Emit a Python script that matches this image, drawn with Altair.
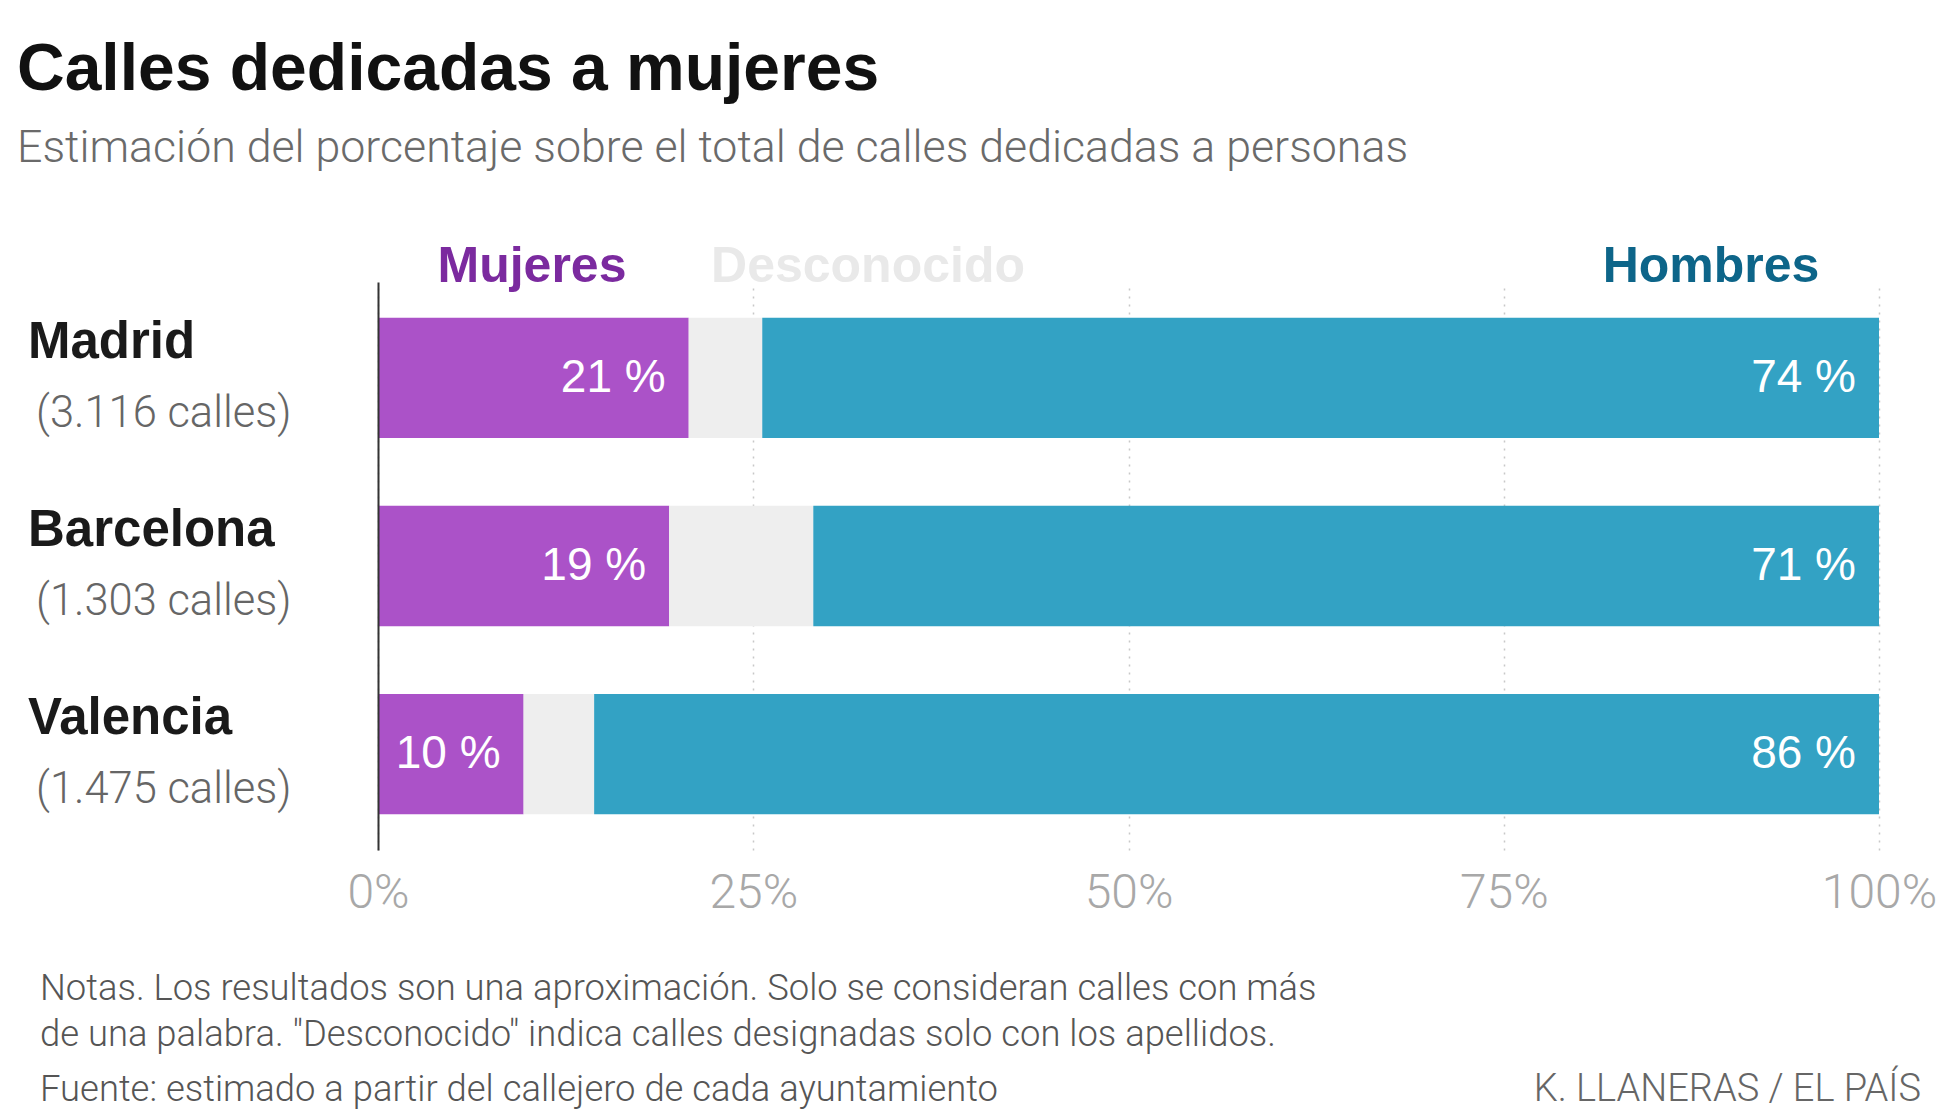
import altair as alt
import pandas as pd

# ---------------- data ----------------
CITIES = ["Madrid", "Barcelona", "Valencia"]
STREETS = ["3.116", "1.303", "1.475"]
MUJERES = [20.7, 19.4, 9.7]
DESCONOCIDO = [4.9, 9.6, 4.7]
HOMBRES = [74.4, 71.0, 85.6]
SEGMENTS = ["Mujeres", "Desconocido", "Hombres"]
TICKS = [0, 25, 50, 75, 100]

TITLE = "Calles dedicadas a mujeres"
SUBTITLE = "Estimación del porcentaje sobre el total de calles dedicadas a personas"
NOTES = [
    "Notas. Los resultados son una aproximación. Solo se consideran calles con más",
    "de una palabra. \"Desconocido\" indica calles designadas solo con los apellidos.",
    "Fuente: estimado a partir del callejero de cada ayuntamiento",
]
CREDIT = "K. LLANERAS  /  EL PAÍS"

# ---------------- styles ----------------
BAR_COLORS = ["#ab52c8", "#eeeeee", "#33a2c4"]
HEAD_COLORS = {"Mujeres": "#7b2a9f", "Desconocido": "#e9e9e9", "Hombres": "#0d6589"}
HEAD_X = {"Mujeres": 154, "Desconocido": 490, "Hombres": 1333}  # pixel centres
BOLD = "Liberation Sans"
LIGHT = "Roboto"

W, H = 1501, 568

# ---------------- tables ----------------
rows = []
for c, m, d, h in zip(CITIES, MUJERES, DESCONOCIDO, HOMBRES):
    for i, (s, v) in enumerate(zip(SEGMENTS, [m, d, h])):
        rows.append({"city": c, "segment": s, "value": v, "ord": i})
bars_df = pd.DataFrame(rows)

lab_rows = []
for c, m, d, h in zip(CITIES, MUJERES, DESCONOCIDO, HOMBRES):
    lab_rows.append({"city": c, "pos": m, "text": f"{round(m)} %"})
    lab_rows.append({"city": c, "pos": m + d + h, "text": f"{round(h)} %"})
lab_df = pd.DataFrame(lab_rows)

city_df = pd.DataFrame({
    "city": CITIES,
    "streets": [f"({s} calles)" for s in STREETS],
})

y_enc = alt.Y(
    "city:N", sort=CITIES,
    scale=alt.Scale(paddingInner=0.36, paddingOuter=0.19),
    axis=alt.Axis(labels=False, ticks=False, title=None, domain=True,
                  domainColor="#333333", domainWidth=2, grid=False, zindex=1),
)

bars = alt.Chart(bars_df).mark_bar().encode(
    x=alt.X(
        "value:Q", stack="zero",
        scale=alt.Scale(domain=[0, 100], nice=False),
        axis=alt.Axis(
            values=TICKS, labelExpr="datum.value + '%'", title=None,
            grid=True, gridDash=[2, 6], gridColor="#c8c8c8", gridWidth=1.5,
            domain=False, ticks=False, tickSize=0, labelFlush=False,
            labelFont=LIGHT, labelFontWeight=300, labelFontSize=48,
            labelColor="#a8a8a8", labelBaseline="alphabetic", labelPadding=57,
            zindex=0,
        ),
    ),
    y=y_enc,
    color=alt.Color("segment:N", scale=alt.Scale(domain=SEGMENTS, range=BAR_COLORS), legend=None),
    order=alt.Order("ord:Q"),
)

values = alt.Chart(lab_df).mark_text(
    align="right", baseline="middle", dx=-23, font=BOLD, fontSize=46, color="white"
).encode(
    x=alt.X("pos:Q"),
    y=alt.Y("city:N", sort=CITIES),
    text="text:N",
)

names = alt.Chart(city_df).mark_text(
    align="left", baseline="alphabetic", dy=-20, font=BOLD, fontWeight="bold",
    fontSize=51, color="#1a1a1a"
).encode(x=alt.value(-350), y=alt.Y("city:N", sort=CITIES), text="city:N")

streets = alt.Chart(city_df).mark_text(
    align="left", baseline="alphabetic", dy=49, font=LIGHT, fontWeight=300,
    fontSize=43.5, color="#666666"
).encode(x=alt.value(-342), y=alt.Y("city:N", sort=CITIES), text="streets:N")

layers = [bars, values, names, streets]

for seg in SEGMENTS:
    layers.append(
        alt.Chart(pd.DataFrame({"t": [seg]})).mark_text(
            align="center", baseline="alphabetic", font=BOLD, fontWeight="bold",
            fontSize=50, color=HEAD_COLORS[seg]
        ).encode(x=alt.value(HEAD_X[seg]), y=alt.value(0), text="t:N")
    )

layers.append(
    alt.Chart(pd.DataFrame({"t": [TITLE]})).mark_text(
        align="left", baseline="alphabetic", font=BOLD, fontWeight="bold",
        fontSize=66, color="#111111"
    ).encode(x=alt.value(-361), y=alt.value(-192), text="t:N")
)
layers.append(
    alt.Chart(pd.DataFrame({"t": [SUBTITLE]})).mark_text(
        align="left", baseline="alphabetic", font=LIGHT, fontWeight=300,
        fontSize=44.7, color="#6a6a6a"
    ).encode(x=alt.value(-361), y=alt.value(-120), text="t:N")
)
for line, yy in zip(NOTES, [718, 764, 819]):
    layers.append(
        alt.Chart(pd.DataFrame({"t": [line]})).mark_text(
            align="left", baseline="alphabetic", font=LIGHT, fontWeight=300,
            fontSize=36.4, color="#555555"
        ).encode(x=alt.value(-338), y=alt.value(yy), text="t:N")
    )
layers.append(
    alt.Chart(pd.DataFrame({"t": [CREDIT]})).mark_text(
        align="right", baseline="alphabetic", font=LIGHT, fontWeight=300,
        fontSize=38, color="#666666"
    ).encode(x=alt.value(1543), y=alt.value(819), text="t:N")
)

chart = alt.layer(*layers).properties(
    width=W, height=H,
    autosize=alt.AutoSizeParams(type="none"),
    padding={"left": 370, "top": 274, "right": 70, "bottom": 260},
    background="white",
).configure_view(stroke=None)

chart.save("out.html", embed_options={"renderer": "svg", "actions": False})
